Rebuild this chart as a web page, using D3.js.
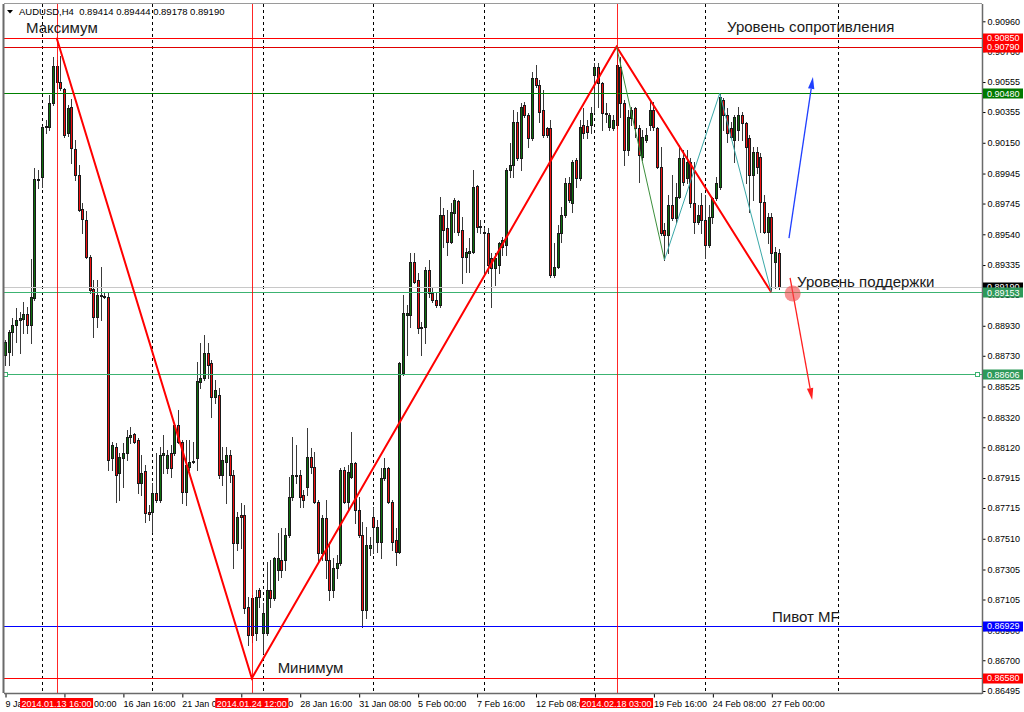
<!DOCTYPE html>
<html><head><meta charset="utf-8">
<script src="https://cdn.jsdelivr.net/npm/d3@7"></script>
<style>body{margin:0;background:#fff}svg{display:block}</style>
</head><body><svg id="c" width="1024" height="712"></svg>
<script>
const symbolTitle = "AUDUSD,H4  0.89414 0.89444 0.89178 0.89190";
const open = [.88735,.88755,.88889,.88935,.88969,.88975,.89009,.88935,.89115,.89909,.89922,.90255,.90255,.90415,.90662,.90555,.90509,.90215,.90389,.90109,.89935,.89709,.89635,.89389,.89175,.88989,.89135,.89129,.89122,.88049,.88122,.87949,.88049,.88082,.88189,.88209,.88169,.87882,.87962,.87689,.87689,.87815,.87769,.88069,.87982,.88082,.88082,.88269,.88155,.87822,.87989,.88022,.88049,.88555,.88582,.88749,.88682,.88455,.88469,.87935,.88022,.88069,.87935,.87482,.87669,.87669,.87055,.86869,.86882,.87169,.86882,.86882,.87169,.87115,.87302,.87369,.87369,.87535,.87789,.87935,.87935,.87802,.87855,.88055,.87989,.87755,.87415,.87649,.87369,.87169,.87315,.87349,.87969,.87755,.87922,.88015,.87702,.87535,.87035,.87449,.87655,.87489,.87489,.87915,.87982,.87755,.87502,.87422,.88615,.89002,.89002,.89355,.89235,.88922,.88922,.89302,.89149,.89102,.89069,.89669,.89582,.89489,.89682,.89762,.89569,.89389,.89415,.89422,.89862,.89595,.89555,.89549,.89382,.89315,.89335,.89455,.89469,.89969,.90002,.90289,.90049,.90402,.90335,.90182,.90582,.90535,.90369,.90249,.90249,.89269,.89322,.89549,.89669,.89882,.89749,.90035,.89915,.90269,.90262,.90269,.90602,.90655,.90549,.90349,.90255,.90249,.90269,.90655,.90415,.90102,.90315,.90382,.90249,.90055,.90169,.90269,.90369,.90249,.89989,.89569,.89535,.89735,.89649,.89789,.90049,.89915,.90022,.89749,.89622,.89735,.89635,.89469,.89655,.89782,.89855,.90435,.90335,.90249,.90169,.90235,.90335,.90282,.90182,.89935,.90089,.90055,.89755,.89555,.89655,.89355,.89414];
const high = [.88835,.88902,.88982,.89049,.89022,.89089,.89055,.89375,.89982,.89969,.90262,.90302,.90469,.90722,.90702,.90729,.90515,.90402,.90442,.90169,.90002,.89749,.89695,.89402,.89235,.89235,.89322,.89155,.89155,.88155,.88149,.88082,.88149,.88235,.88255,.88215,.88182,.88069,.88002,.87735,.87882,.88082,.88122,.88202,.88102,.88135,.88282,.88369,.88169,.88169,.88169,.88155,.88689,.88815,.88869,.88815,.88702,.88569,.88515,.88122,.88122,.88102,.87969,.87689,.87749,.87735,.87122,.87135,.87169,.87182,.87082,.87355,.87369,.87389,.87549,.87582,.87582,.87922,.88189,.88135,.87969,.87835,.88249,.88115,.88089,.87769,.87669,.87769,.87489,.87382,.87402,.87982,.87989,.88002,.88222,.88022,.87789,.87622,.87589,.87522,.87722,.87635,.87982,.88049,.87989,.87769,.87582,.88689,.89135,.89069,.89415,.89415,.89282,.88955,.89322,.89369,.89189,.89149,.89789,.89715,.89702,.89749,.89782,.89769,.89655,.89449,.89515,.89969,.89869,.89635,.89582,.89582,.89415,.89415,.89489,.89522,.89982,.90149,.90369,.90355,.90415,.90422,.90349,.90622,.90669,.90569,.90502,.90255,.90302,.89482,.89602,.89722,.89915,.89922,.90035,.90049,.90302,.90382,.90302,.90389,.90682,.90682,.90555,.90415,.90349,.90335,.90789,.90722,.90435,.90369,.90389,.90389,.90269,.90235,.90249,.90435,.90422,.90255,.90122,.89615,.89802,.89935,.89882,.90135,.90102,.90102,.90049,.90022,.89735,.89815,.89802,.89735,.89789,.89922,.90482,.90449,.90382,.90289,.90335,.90389,.90355,.90289,.90202,.90122,.90122,.90082,.89802,.89682,.89682,.89455,.89444];
const low = [.88669,.88669,.88735,.88822,.88749,.88882,.88882,.88815,.89102,.89849,.89855,.90215,.90235,.90402,.90515,.90502,.90189,.90195,.90015,.89902,.89695,.89549,.89382,.89149,.88855,.88922,.88969,.89115,.87969,.87969,.87755,.87769,.87855,.88035,.88149,.88149,.87815,.87802,.87622,.87635,.87555,.87755,.87755,.87949,.87949,.87922,.88069,.88149,.87749,.87735,.87969,.88015,.87969,.88515,.88569,.88582,.88322,.88415,.87915,.87869,.87749,.87889,.87315,.87435,.87449,.87015,.86802,.86822,.86835,.87055,.86749,.86869,.87055,.87102,.87235,.87255,.87302,.87522,.87769,.87882,.87722,.87722,.87802,.87949,.87749,.87349,.87369,.87249,.87102,.87122,.87249,.87335,.87749,.87702,.87915,.87615,.87522,.86922,.86982,.87402,.87415,.87422,.87382,.87902,.87749,.87435,.87335,.87415,.88602,.88735,.88922,.89215,.88882,.88735,.88815,.89122,.89089,.89055,.89055,.89455,.89402,.89482,.89555,.89535,.89215,.89289,.89289,.89415,.89555,.89549,.89282,.89282,.89055,.89202,.89282,.89402,.89402,.89922,.89922,.90035,.89969,.90322,.90122,.90169,.90522,.90289,.90189,.90189,.89255,.89255,.89315,.89489,.89655,.89755,.89689,.89855,.89902,.90182,.90182,.90215,.90355,.90389,.90235,.90289,.90235,.90235,.90249,.90322,.90002,.90069,.90269,.90189,.89889,.90035,.90155,.90235,.90235,.89982,.89535,.89369,.89415,.89635,.89615,.89782,.89869,.89882,.89722,.89549,.89609,.89549,.89382,.89455,.89615,.89769,.89842,.90235,.90155,.90182,.90022,.90169,.90169,.89882,.89689,.89769,.89949,.89555,.89549,.89482,.89169,.89182,.89178];
const close = [.88822,.88889,.88935,.88969,.88982,.89009,.88935,.89122,.89909,.89902,.90255,.90262,.90415,.90662,.90555,.90515,.90202,.90382,.90115,.89935,.89702,.89642,.89389,.89169,.88989,.89135,.89130,.89125,.88035,.88135,.87935,.88055,.88082,.88189,.88202,.88155,.87882,.87949,.87682,.87675,.87815,.87769,.88069,.88082,.88069,.87982,.88269,.88155,.87822,.88002,.88022,.88029,.88562,.88582,.88749,.88669,.88455,.88502,.87935,.88035,.88069,.87935,.87482,.87655,.87655,.87049,.86869,.87115,.87122,.87122,.87015,.87169,.87115,.87382,.87382,.87302,.87535,.87789,.87935,.87929,.87789,.87769,.88055,.87989,.87755,.87415,.87649,.87369,.87169,.87315,.87349,.87969,.87755,.87955,.88015,.87702,.87535,.87035,.87469,.87469,.87589,.87589,.87915,.87982,.87755,.87489,.87422,.88682,.89015,.89015,.89355,.89222,.88915,.88915,.89302,.89149,.89102,.89069,.89669,.89569,.89489,.89689,.89769,.89555,.89389,.89422,.89429,.89855,.89589,.89589,.89549,.89335,.89315,.89382,.89482,.89502,.89969,.90002,.90289,.90049,.90389,.90335,.90182,.90582,.90535,.90355,.90202,.90202,.89269,.89322,.89549,.89669,.89882,.89769,.90022,.89915,.90255,.90215,.90222,.90349,.90655,.90549,.90349,.90342,.90335,.90302,.90669,.90415,.90102,.90322,.90369,.90249,.90069,.90189,.90202,.90369,.90255,.89989,.89549,.89535,.89735,.89649,.89789,.90049,.89889,.90022,.89749,.89622,.89669,.89635,.89469,.89655,.89782,.89882,.90455,.90335,.90215,.90189,.90322,.90335,.90282,.90122,.89935,.90089,.89989,.89755,.89555,.89655,.89415,.89422,.89190];

const xTickIdx = [0,16,32,48,64,80,96,112,128,144,160,176,192,208];
const xTickLabels = ["9 Jan 2014","14 Jan 00:00","16 Jan 16:00","21 Jan 08:00","24 Jan 00:00","28 Jan 16:00","31 Jan 08:00","5 Feb 00:00","7 Feb 16:00","12 Feb 08:00","17 Feb 00:00","19 Feb 16:00","24 Feb 08:00","27 Feb 00:00"];
const priceTicks = [0.90960,0.90760,0.90555,0.90355,0.90150,0.89945,0.89745,0.89540,0.89335,0.89135,0.88930,0.88730,0.88525,0.88320,0.88120,0.87915,0.87715,0.87510,0.87305,0.87105,0.86900,0.86700,0.86495];
const separatorIdx = [10,40,70,100,130,160,190,226];
const markerIdx = [14,67,166];
const markerLabels = ["2014.01.13 16:00","2014.01.24 12:00","2014.02.18 03:00"];
const levelPrices = [0.90850,0.90790,0.90480,0.89190,0.89153,0.88606,0.86929,0.86580];
const zigzagIdx = [14,67,166,208];
const zigzagPrice = [0.90850,0.86580,0.90790,0.89153];
const patternIdx = [166,179,194,208];
const patternPrice = [0.90790,0.89369,0.90480,0.89153];
const upArrowIdx = [212.8,219.3];
const upArrowPrice = [0.89515,0.90589];
const downArrowIdx = [213.1,219.1];
const downArrowPrice = [0.89249,0.88435];
const dotIdx = 213.8, dotPrice = 0.89145;
const notes = [
  {text:"Максимум", i:5.7, p:0.90882},
  {text:"Уровень сопротивления", i:196, p:0.90889},
  {text:"Уровень поддержки", i:215, p:0.89189},
  {text:"Пивот MF", i:208.2, p:0.86955},
  {text:"Минимум", i:74, p:0.86615}
];

const svg = d3.select("#c");
const L=4, R=982, T=4, B=693;
const FONT = "'Liberation Sans', Arial, sans-serif";
const x = d3.scaleLinear().domain([0,208]).range([5,771.3]);
const y = d3.scaleLinear().domain([0.86495,0.90960]).range([691,21.3]);
const px = v => Math.round(x(v));
const py = v => Math.round(y(v));

svg.append("rect").attr("width",1024).attr("height",712).attr("fill","#fff");
svg.append("defs").append("clipPath").attr("id","clip").append("rect")
  .attr("x",L).attr("y",T).attr("width",R-L).attr("height",B-T);
const g = svg.append("g").attr("clip-path","url(#clip)");

// period separators
g.selectAll(".sep").data(separatorIdx).join("line")
  .attr("x1",d=>px(d)+0.5).attr("x2",d=>px(d)+0.5).attr("y1",T).attr("y2",B)
  .attr("stroke","#000").attr("stroke-dasharray","3,3");

// candles
const idx = d3.range(open.length);
g.selectAll(".wick").data(idx).join("line")
  .attr("x1",i=>px(i)+0.5).attr("x2",i=>px(i)+0.5)
  .attr("y1",i=>py(high[i])).attr("y2",i=>py(low[i])+1)
  .attr("stroke","#3a3a3a");
g.selectAll(".body").data(idx).join("rect")
  .attr("x",i=>px(i)-0.5)
  .attr("y",i=>Math.min(py(open[i]),py(close[i]))+0.5)
  .attr("width",2)
  .attr("height",i=>Math.max(1,Math.abs(py(open[i])-py(close[i]))))
  .attr("fill",i=>close[i]>=open[i]?"#0e6e0e":"#f01010")
  .attr("stroke","#1a1a1a");

// horizontal levels
const levelColors = ["#ff0000","#e00000","#008000","#c8c8c8","#3cb371","#3cb371","#0000ff","#ff0000"];
g.selectAll(".lvl").data(levelPrices).join("line")
  .attr("x1",L).attr("x2",R)
  .attr("y1",d=>py(d)+0.5).attr("y2",d=>py(d)+0.5)
  .attr("stroke",(d,i)=>levelColors[i]);
// pivot end squares on 0.88606 line
[6, 978].forEach(xx=>{
  svg.append("rect").attr("x",xx-2.5).attr("y",py(levelPrices[5])-2+0.5).attr("width",4).attr("height",4)
    .attr("fill","#fff").attr("stroke","#3cb371");
});

// vertical marker lines
g.selectAll(".vm").data(markerIdx).join("line")
  .attr("x1",d=>px(d)+0.5).attr("x2",d=>px(d)+0.5).attr("y1",T).attr("y2",B)
  .attr("stroke","#ff0000").attr("stroke-opacity",0.85);

// zigzag
const line = d3.line().x(d=>x(d[0])).y(d=>y(d[1]));
g.append("path").attr("d",line(zigzagIdx.map((d,i)=>[d,zigzagPrice[i]])))
  .attr("fill","none").attr("stroke","#ff0000").attr("stroke-width",2);
const pat = patternIdx.map((d,i)=>[d,patternPrice[i]]);
g.append("path").attr("d",line(pat.slice(0,2))).attr("fill","none").attr("stroke","#3d8f3d").attr("stroke-width",1);
g.append("path").attr("d",line(pat.slice(1))).attr("fill","none").attr("stroke","#3aa8a8").attr("stroke-width",1);

// arrows
function arrow(ix, pr, color){
  const x1=x(ix[0]), y1=y(pr[0]), x2=x(ix[1]), y2=y(pr[1]);
  const a=Math.atan2(y2-y1,x2-x1), len=12, w=3.2;
  const bx=x2-len*Math.cos(a), by=y2-len*Math.sin(a);
  g.append("line").attr("x1",x1).attr("y1",y1).attr("x2",bx).attr("y2",by).attr("stroke",color).attr("stroke-width",1.3);
  g.append("path").attr("d",`M${x2},${y2}L${bx+w*Math.sin(a)},${by-w*Math.cos(a)}L${bx-w*Math.sin(a)},${by+w*Math.cos(a)}Z`).attr("fill",color);
}
arrow(upArrowIdx, upArrowPrice, "#1f3fff");
arrow(downArrowIdx, downArrowPrice, "#ff2020");
g.append("circle").attr("cx",x(dotIdx)).attr("cy",y(dotPrice)).attr("r",8).attr("fill","#f04848").attr("fill-opacity",0.6);

// notes
svg.selectAll(".note").data(notes).join("text")
  .attr("x",d=>x(d.i)).attr("y",d=>y(d.p))
  .attr("font-family",FONT).attr("font-size",15).attr("fill","#1a1a1a")
  .text(d=>d.text);

// right axis
const ay = svg.append("g").attr("transform",`translate(${R+0.5},0)`)
  .call(d3.axisRight(y).tickValues(priceTicks).tickFormat(d3.format(".5f")).tickSize(3).tickPadding(2));
ay.select(".domain").remove();
ay.selectAll("text").attr("font-family",FONT).attr("font-size",9).attr("fill","#000");
ay.selectAll("line").attr("stroke","#000");

// bottom axis
const ax = svg.append("g").attr("transform",`translate(0,${B+0.5})`)
  .call(d3.axisBottom(x).tickValues(xTickIdx).tickFormat((d,i)=>xTickLabels[i]).tickSize(4).tickPadding(3));
ax.select(".domain").remove();
ax.selectAll(".tick line").attr("transform","translate(0.5,0)").attr("stroke","#000");
ax.selectAll("text").attr("font-family",FONT).attr("font-size",9).attr("fill","#000").attr("text-anchor","start").attr("x",0);

// border
svg.append("line").attr("x1",R+0.5).attr("x2",R+0.5).attr("y1",T).attr("y2",B+1).attr("stroke","#6a6a6a").attr("stroke-width",1.5);
svg.append("line").attr("x1",L).attr("x2",R).attr("y1",B+0.5).attr("y2",B+0.5).attr("stroke","#6a6a6a").attr("stroke-width",1.5);
svg.append("line").attr("x1",L-0.5).attr("x2",L-0.5).attr("y1",T).attr("y2",B).attr("stroke","#6a6a6a").attr("stroke-width",2);
svg.append("line").attr("x1",L).attr("x2",R).attr("y1",T-0.5).attr("y2",T-0.5).attr("stroke","#9a9a9a");

// price level label boxes
const boxBg = ["#ff0000","#ff0000","#007a00","#000000","#2e9a5a","#2e9a5a","#0000ff","#ff0000"];
const boxOrder = [0,1,2,3,4,5,6,7];
boxOrder.forEach(k=>{
  const yy = y(levelPrices[k]);
  svg.append("rect").attr("x",R+1).attr("y",Math.round(yy)-4.5).attr("width",40).attr("height",10).attr("fill",boxBg[k]);
  svg.append("text").attr("x",R+5).attr("y",yy).attr("dy","0.36em")
    .attr("font-family",FONT).attr("font-size",9).attr("fill","#fff").text(d3.format(".5f")(levelPrices[k]));
});

// marker date boxes at bottom
markerIdx.forEach((d,i)=>{
  const cx = x(d);
  svg.append("rect").attr("x",cx-36.5).attr("y",698).attr("width",73).attr("height",10).attr("fill","#ff0000");
  svg.append("text").attr("x",cx).attr("y",706.5).attr("text-anchor","middle")
    .attr("font-family",FONT).attr("font-size",9).attr("fill","#fff").text(markerLabels[i]);
});

// header
svg.append("path").attr("d","M7,10L13,10L10,13.5Z").attr("fill","#000");
svg.append("text").attr("x",19).attr("y",15).attr("font-family",FONT).attr("font-size",9.5).attr("fill","#000")
  .attr("xml:space","preserve").style("white-space","pre").text(symbolTitle);
</script></body></html>
